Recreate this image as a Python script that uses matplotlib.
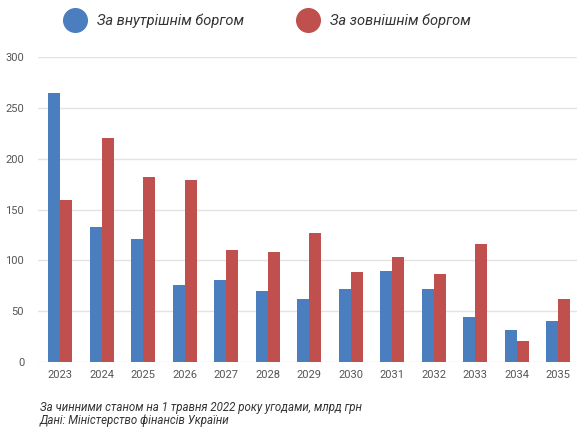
import numpy as np
import matplotlib.pyplot as plt
from matplotlib.lines import Line2D

years = ['2023', '2024', '2025', '2026', '2027', '2028', '2029',
         '2030', '2031', '2032', '2033', '2034', '2035']
internal = [265, 133, 121, 76, 81, 70, 62, 72, 90, 72, 44, 32, 40]
external = [159, 220, 182, 179, 110, 108, 127, 89, 103, 87, 116, 21, 62]
labels = ['За внутрішнім боргом', 'За зовнішнім боргом']
note = 'За чинними станом на 1 травня 2022 року угодами, млрд грн\nДані: Міністерство фінансів України'

blue = '#4a7ebf'
red = '#c0504d'

plt.rcParams['font.family'] = ['Roboto', 'DejaVu Sans']

fig = plt.figure(figsize=(5.77, 4.29), dpi=100)
ax = fig.add_axes([0.066, 0.156, 0.934, 0.711])

x = np.arange(len(years))
w = 0.29
ax.bar(x - w / 2, internal, w, color=blue, zorder=3)
ax.bar(x + w / 2, external, w, color=red, zorder=3)

ax.set_ylim(0, 300)
ax.set_xlim(-0.53, 12.45)
ax.set_yticks(range(0, 301, 50))
ax.set_xticks(x)
ax.set_xticklabels(years)
ax.tick_params(length=0, labelsize=8, colors='#555555')
ax.tick_params(axis='y', pad=10)
ax.tick_params(axis='x', pad=6)
ax.grid(axis='y', color='#e3e3e3', linewidth=1, zorder=0)
for s in ax.spines.values():
    s.set_visible(False)

handles = [Line2D([], [], marker='o', linestyle='none', markersize=17, color=blue),
           Line2D([], [], marker='o', linestyle='none', markersize=17, color=red)]
leg = fig.legend(handles, labels, loc='center', bbox_to_anchor=(0.46, 0.952), ncol=2,
                 frameon=False, prop={'style': 'italic', 'size': 10.5},
                 handletextpad=0.5, columnspacing=3.4)
for t in leg.get_texts():
    t.set_color('#333333')

fig.text(0.069, 0.004, note, fontsize=8.3, style='italic', color='#333333',
         va='bottom', linespacing=1.0)

plt.savefig('out.png', dpi=100)
